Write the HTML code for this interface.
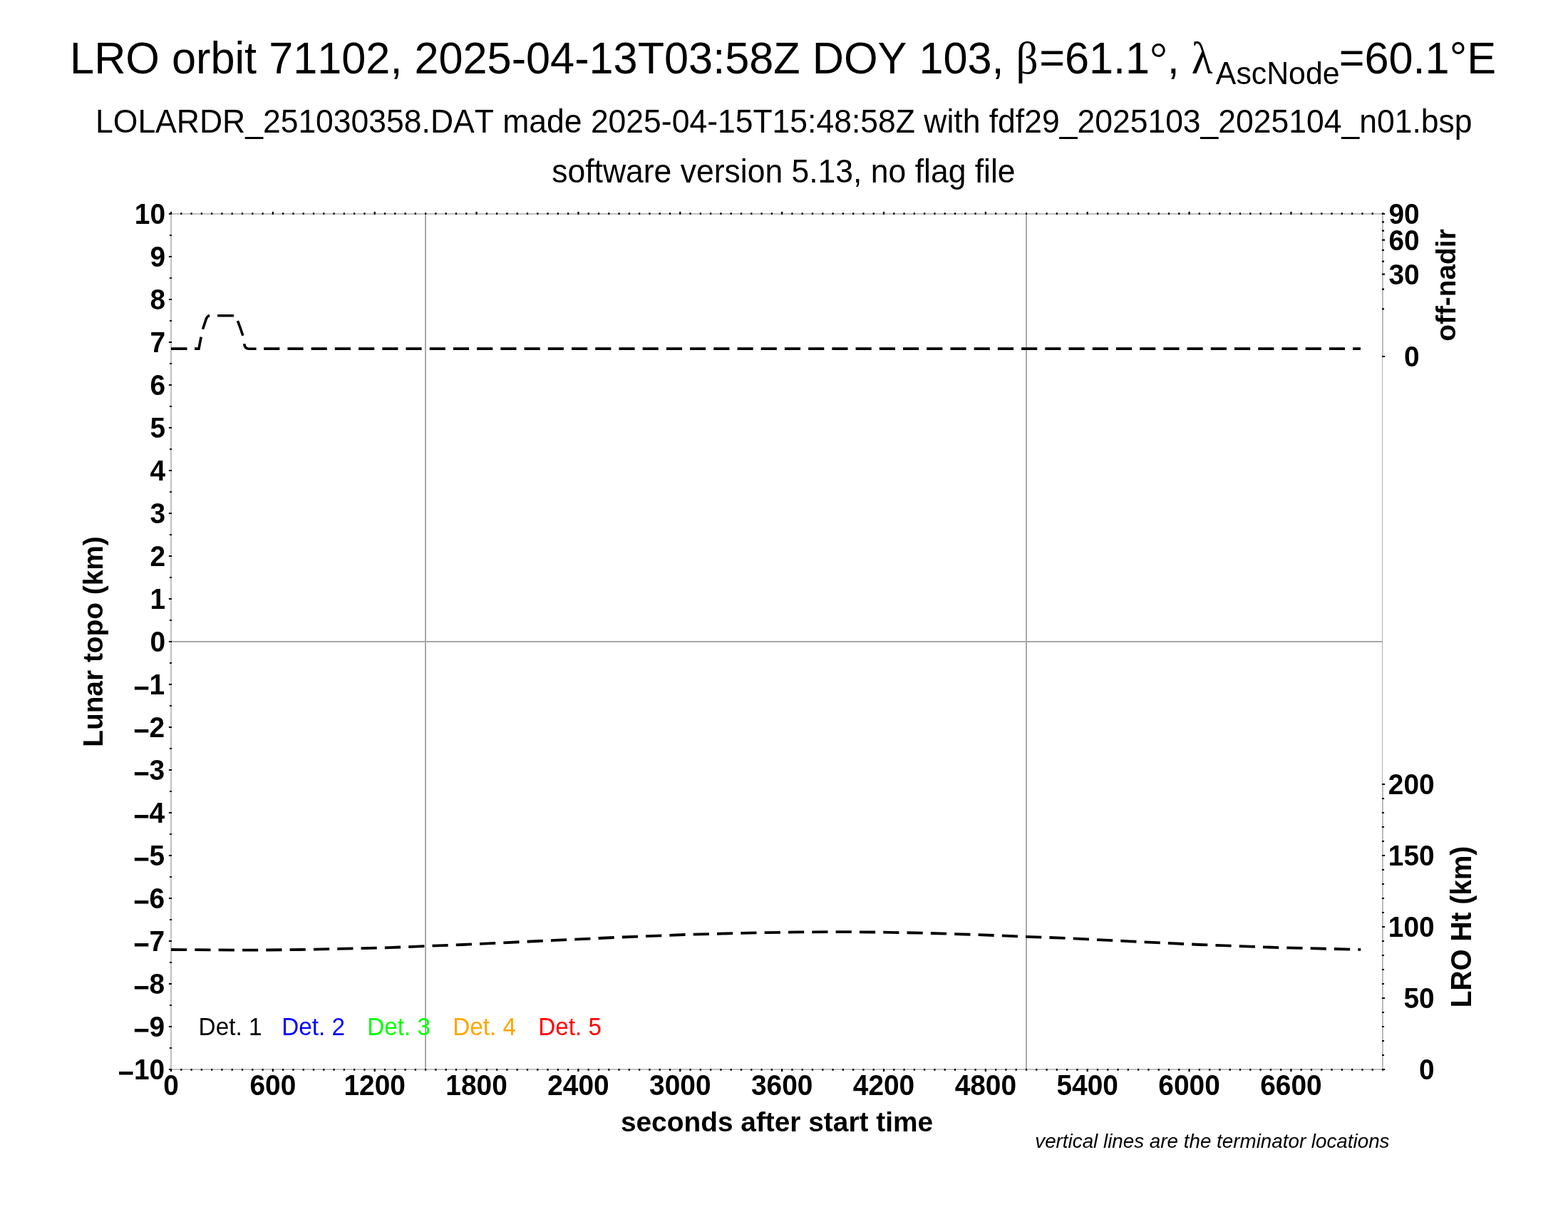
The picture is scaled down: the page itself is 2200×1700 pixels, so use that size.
<!DOCTYPE html>
<html lang="en"><head><meta charset="utf-8"><title>LRO orbit 71102</title>
<style>html,body{margin:0;padding:0;background:#fff}body{width:2200px;height:1700px;overflow:hidden}svg{display:block}text{font-family:'Liberation Sans', Arial, Helvetica, sans-serif;fill:#000;font-kerning:none}.b{font-weight:bold;font-size:38.85px}.tk{stroke:#000;stroke-width:2.2;fill:none}.fr{stroke:#c1c1c1;stroke-width:2;fill:none;stroke-linejoin:miter}.d{stroke:#000;stroke-width:3.8;fill:none}.sy{font-family:'Liberation Serif', 'DejaVu Serif', serif}</style>
</head><body>
<svg width="2200" height="1700" viewBox="0 0 2200 1700">
<rect width="2200" height="1700" fill="#fff"/>
<text transform="translate(98.10 103.10) scale(1 1.03)" font-size="61.25px">LRO orbit 71102, 2025-04-13T03:58Z DOY 103, <tspan class="sy">β</tspan><tspan dx="1.5">=61.1</tspan><tspan class="sy">°</tspan>, <tspan class="sy">λ</tspan><tspan font-size="42.8px" dy="14.56" dx="4.5">AscNode</tspan><tspan dy="-14.56" dx="-0.8">=60.1°E</tspan></text>
<text transform="translate(1099.80 186.00) scale(1 1.03)" font-size="44.5px" text-anchor="middle">LOLARDR_251030358.DAT made 2025-04-15T15:48:58Z with fdf29_2025103_2025104_n01.bsp</text>
<text transform="translate(1099.40 256.00) scale(1 1.02)" font-size="44.5px" text-anchor="middle">software version 5.13, no flag file</text>
<path d="M597 301V1499M1440 301V1499M241 900H1939" stroke="#a8a8a8" stroke-width="2" fill="none"/>
<path class="fr" d="M240 1501V300H1940M239 1500H1940M1940 299V500M1940 1100V1501"/>
<path d="M1939.5 500V1100" stroke="#b0b0b0" stroke-width="1" fill="none"/>
<path d="M1939.5 301V500M1939.5 1100V1499" stroke="#b4b4b4" stroke-width="1" fill="none"/>
<path class="tk" d="M240.00 1499.0v3.9M240.00 301.0v-3.9M254.29 1499.0v2.8M254.29 301.0v-2.8M268.57 1499.0v2.8M268.57 301.0v-2.8M282.86 1499.0v2.8M282.86 301.0v-2.8M297.14 1499.0v2.8M297.14 301.0v-2.8M311.43 1499.0v2.8M311.43 301.0v-2.8M325.71 1499.0v2.8M325.71 301.0v-2.8M340.00 1499.0v2.8M340.00 301.0v-2.8M354.29 1499.0v2.8M354.29 301.0v-2.8M368.57 1499.0v2.8M368.57 301.0v-2.8M382.86 1499.0v3.9M382.86 301.0v-3.9M397.14 1499.0v2.8M397.14 301.0v-2.8M411.43 1499.0v2.8M411.43 301.0v-2.8M425.71 1499.0v2.8M425.71 301.0v-2.8M440.00 1499.0v2.8M440.00 301.0v-2.8M454.29 1499.0v2.8M454.29 301.0v-2.8M468.57 1499.0v2.8M468.57 301.0v-2.8M482.86 1499.0v2.8M482.86 301.0v-2.8M497.14 1499.0v2.8M497.14 301.0v-2.8M511.43 1499.0v2.8M511.43 301.0v-2.8M525.71 1499.0v3.9M525.71 301.0v-3.9M540.00 1499.0v2.8M540.00 301.0v-2.8M554.29 1499.0v2.8M554.29 301.0v-2.8M568.57 1499.0v2.8M568.57 301.0v-2.8M582.86 1499.0v2.8M582.86 301.0v-2.8M597.14 1499.0v2.8M597.14 301.0v-2.8M611.43 1499.0v2.8M611.43 301.0v-2.8M625.71 1499.0v2.8M625.71 301.0v-2.8M640.00 1499.0v2.8M640.00 301.0v-2.8M654.29 1499.0v2.8M654.29 301.0v-2.8M668.57 1499.0v3.9M668.57 301.0v-3.9M682.86 1499.0v2.8M682.86 301.0v-2.8M697.14 1499.0v2.8M697.14 301.0v-2.8M711.43 1499.0v2.8M711.43 301.0v-2.8M725.71 1499.0v2.8M725.71 301.0v-2.8M740.00 1499.0v2.8M740.00 301.0v-2.8M754.29 1499.0v2.8M754.29 301.0v-2.8M768.57 1499.0v2.8M768.57 301.0v-2.8M782.86 1499.0v2.8M782.86 301.0v-2.8M797.14 1499.0v2.8M797.14 301.0v-2.8M811.43 1499.0v3.9M811.43 301.0v-3.9M825.71 1499.0v2.8M825.71 301.0v-2.8M840.00 1499.0v2.8M840.00 301.0v-2.8M854.29 1499.0v2.8M854.29 301.0v-2.8M868.57 1499.0v2.8M868.57 301.0v-2.8M882.86 1499.0v2.8M882.86 301.0v-2.8M897.14 1499.0v2.8M897.14 301.0v-2.8M911.43 1499.0v2.8M911.43 301.0v-2.8M925.71 1499.0v2.8M925.71 301.0v-2.8M940.00 1499.0v2.8M940.00 301.0v-2.8M954.29 1499.0v3.9M954.29 301.0v-3.9M968.57 1499.0v2.8M968.57 301.0v-2.8M982.86 1499.0v2.8M982.86 301.0v-2.8M997.14 1499.0v2.8M997.14 301.0v-2.8M1011.43 1499.0v2.8M1011.43 301.0v-2.8M1025.71 1499.0v2.8M1025.71 301.0v-2.8M1040.00 1499.0v2.8M1040.00 301.0v-2.8M1054.29 1499.0v2.8M1054.29 301.0v-2.8M1068.57 1499.0v2.8M1068.57 301.0v-2.8M1082.86 1499.0v2.8M1082.86 301.0v-2.8M1097.14 1499.0v3.9M1097.14 301.0v-3.9M1111.43 1499.0v2.8M1111.43 301.0v-2.8M1125.71 1499.0v2.8M1125.71 301.0v-2.8M1140.00 1499.0v2.8M1140.00 301.0v-2.8M1154.29 1499.0v2.8M1154.29 301.0v-2.8M1168.57 1499.0v2.8M1168.57 301.0v-2.8M1182.86 1499.0v2.8M1182.86 301.0v-2.8M1197.14 1499.0v2.8M1197.14 301.0v-2.8M1211.43 1499.0v2.8M1211.43 301.0v-2.8M1225.71 1499.0v2.8M1225.71 301.0v-2.8M1240.00 1499.0v3.9M1240.00 301.0v-3.9M1254.29 1499.0v2.8M1254.29 301.0v-2.8M1268.57 1499.0v2.8M1268.57 301.0v-2.8M1282.86 1499.0v2.8M1282.86 301.0v-2.8M1297.14 1499.0v2.8M1297.14 301.0v-2.8M1311.43 1499.0v2.8M1311.43 301.0v-2.8M1325.71 1499.0v2.8M1325.71 301.0v-2.8M1340.00 1499.0v2.8M1340.00 301.0v-2.8M1354.29 1499.0v2.8M1354.29 301.0v-2.8M1368.57 1499.0v2.8M1368.57 301.0v-2.8M1382.86 1499.0v3.9M1382.86 301.0v-3.9M1397.14 1499.0v2.8M1397.14 301.0v-2.8M1411.43 1499.0v2.8M1411.43 301.0v-2.8M1425.71 1499.0v2.8M1425.71 301.0v-2.8M1440.00 1499.0v2.8M1440.00 301.0v-2.8M1454.29 1499.0v2.8M1454.29 301.0v-2.8M1468.57 1499.0v2.8M1468.57 301.0v-2.8M1482.86 1499.0v2.8M1482.86 301.0v-2.8M1497.14 1499.0v2.8M1497.14 301.0v-2.8M1511.43 1499.0v2.8M1511.43 301.0v-2.8M1525.71 1499.0v3.9M1525.71 301.0v-3.9M1540.00 1499.0v2.8M1540.00 301.0v-2.8M1554.29 1499.0v2.8M1554.29 301.0v-2.8M1568.57 1499.0v2.8M1568.57 301.0v-2.8M1582.86 1499.0v2.8M1582.86 301.0v-2.8M1597.14 1499.0v2.8M1597.14 301.0v-2.8M1611.43 1499.0v2.8M1611.43 301.0v-2.8M1625.71 1499.0v2.8M1625.71 301.0v-2.8M1640.00 1499.0v2.8M1640.00 301.0v-2.8M1654.29 1499.0v2.8M1654.29 301.0v-2.8M1668.57 1499.0v3.9M1668.57 301.0v-3.9M1682.86 1499.0v2.8M1682.86 301.0v-2.8M1697.14 1499.0v2.8M1697.14 301.0v-2.8M1711.43 1499.0v2.8M1711.43 301.0v-2.8M1725.71 1499.0v2.8M1725.71 301.0v-2.8M1740.00 1499.0v2.8M1740.00 301.0v-2.8M1754.29 1499.0v2.8M1754.29 301.0v-2.8M1768.57 1499.0v2.8M1768.57 301.0v-2.8M1782.86 1499.0v2.8M1782.86 301.0v-2.8M1797.14 1499.0v2.8M1797.14 301.0v-2.8M1811.43 1499.0v3.9M1811.43 301.0v-3.9M1825.71 1499.0v2.8M1825.71 301.0v-2.8M1840.00 1499.0v2.8M1840.00 301.0v-2.8M1854.29 1499.0v2.8M1854.29 301.0v-2.8M1868.57 1499.0v2.8M1868.57 301.0v-2.8M1882.86 1499.0v2.8M1882.86 301.0v-2.8M1897.14 1499.0v2.8M1897.14 301.0v-2.8M1911.43 1499.0v2.8M1911.43 301.0v-2.8M1925.71 1499.0v2.8M1925.71 301.0v-2.8M1940.00 1499.0v2.8M1940.00 301.0v-2.8M241.0 300.0h-4.1M241.0 330.0h-3.0M241.0 360.0h-4.1M241.0 390.0h-3.0M241.0 420.0h-4.1M241.0 450.0h-3.0M241.0 480.0h-4.1M241.0 510.0h-3.0M241.0 540.0h-4.1M241.0 570.0h-3.0M241.0 600.0h-4.1M241.0 630.0h-3.0M241.0 660.0h-4.1M241.0 690.0h-3.0M241.0 720.0h-4.1M241.0 750.0h-3.0M241.0 780.0h-4.1M241.0 810.0h-3.0M241.0 840.0h-4.1M241.0 870.0h-3.0M241.0 900.0h-4.1M241.0 930.0h-3.0M241.0 960.0h-4.1M241.0 990.0h-3.0M241.0 1020.0h-4.1M241.0 1050.0h-3.0M241.0 1080.0h-4.1M241.0 1110.0h-3.0M241.0 1140.0h-4.1M241.0 1170.0h-3.0M241.0 1200.0h-4.1M241.0 1230.0h-3.0M241.0 1260.0h-4.1M241.0 1290.0h-3.0M241.0 1320.0h-4.1M241.0 1350.0h-3.0M241.0 1380.0h-4.1M241.0 1410.0h-3.0M241.0 1440.0h-4.1M241.0 1470.0h-3.0M241.0 1500.0h-4.1M1939.0 1500.0h4.1M1939.0 1480.0h3.0M1939.0 1460.0h3.0M1939.0 1440.0h3.0M1939.0 1420.0h3.0M1939.0 1400.0h4.1M1939.0 1380.0h3.0M1939.0 1360.0h3.0M1939.0 1340.0h3.0M1939.0 1320.0h3.0M1939.0 1300.0h4.1M1939.0 1280.0h3.0M1939.0 1260.0h3.0M1939.0 1240.0h3.0M1939.0 1220.0h3.0M1939.0 1200.0h4.1M1939.0 1180.0h3.0M1939.0 1160.0h3.0M1939.0 1140.0h3.0M1939.0 1120.0h3.0M1939.0 1100.0h4.1M1939.0 500.00h4.1M1939.0 433.33h3.0M1939.0 405.72h3.0M1939.0 384.53h4.1M1939.0 366.67h3.0M1939.0 350.93h3.0M1939.0 336.70h4.1M1939.0 323.62h3.0M1939.0 311.44h3.0M1939.0 300.00h4.1"/>
<text transform="translate(232.00 1514.10) scale(1 1.06)" text-anchor="end" class="b"><tspan dy="4.3" dx="-0.8">−</tspan><tspan dy="-4.3">10</tspan></text>
<text transform="translate(232.00 1454.10) scale(1 1.06)" text-anchor="end" class="b"><tspan dy="4.3" dx="-0.8">−</tspan><tspan dy="-4.3">9</tspan></text>
<text transform="translate(232.00 1394.10) scale(1 1.06)" text-anchor="end" class="b"><tspan dy="4.3" dx="-0.8">−</tspan><tspan dy="-4.3">8</tspan></text>
<text transform="translate(232.00 1334.10) scale(1 1.06)" text-anchor="end" class="b"><tspan dy="4.3" dx="-0.8">−</tspan><tspan dy="-4.3">7</tspan></text>
<text transform="translate(232.00 1274.10) scale(1 1.06)" text-anchor="end" class="b"><tspan dy="4.3" dx="-0.8">−</tspan><tspan dy="-4.3">6</tspan></text>
<text transform="translate(232.00 1214.10) scale(1 1.06)" text-anchor="end" class="b"><tspan dy="4.3" dx="-0.8">−</tspan><tspan dy="-4.3">5</tspan></text>
<text transform="translate(232.00 1154.10) scale(1 1.06)" text-anchor="end" class="b"><tspan dy="4.3" dx="-0.8">−</tspan><tspan dy="-4.3">4</tspan></text>
<text transform="translate(232.00 1094.10) scale(1 1.06)" text-anchor="end" class="b"><tspan dy="4.3" dx="-0.8">−</tspan><tspan dy="-4.3">3</tspan></text>
<text transform="translate(232.00 1034.10) scale(1 1.06)" text-anchor="end" class="b"><tspan dy="4.3" dx="-0.8">−</tspan><tspan dy="-4.3">2</tspan></text>
<text transform="translate(232.00 974.10) scale(1 1.06)" text-anchor="end" class="b"><tspan dy="4.3" dx="-0.8">−</tspan><tspan dy="-4.3">1</tspan></text>
<text transform="translate(232.00 914.10) scale(1 1.06)" text-anchor="end" class="b">0</text>
<text transform="translate(232.00 854.10) scale(1 1.06)" text-anchor="end" class="b">1</text>
<text transform="translate(232.00 794.10) scale(1 1.06)" text-anchor="end" class="b">2</text>
<text transform="translate(232.00 734.10) scale(1 1.06)" text-anchor="end" class="b">3</text>
<text transform="translate(232.00 674.10) scale(1 1.06)" text-anchor="end" class="b">4</text>
<text transform="translate(232.00 614.10) scale(1 1.06)" text-anchor="end" class="b">5</text>
<text transform="translate(232.00 554.10) scale(1 1.06)" text-anchor="end" class="b">6</text>
<text transform="translate(232.00 494.10) scale(1 1.06)" text-anchor="end" class="b">7</text>
<text transform="translate(232.00 434.10) scale(1 1.06)" text-anchor="end" class="b">8</text>
<text transform="translate(232.00 374.10) scale(1 1.06)" text-anchor="end" class="b">9</text>
<text transform="translate(232.00 314.10) scale(1 1.06)" text-anchor="end" class="b">10</text>
<text transform="translate(240.00 1536.00) scale(1 1.06)" text-anchor="middle" class="b">0</text>
<text transform="translate(382.86 1536.00) scale(1 1.06)" text-anchor="middle" class="b">600</text>
<text transform="translate(525.71 1536.00) scale(1 1.06)" text-anchor="middle" class="b">1200</text>
<text transform="translate(668.57 1536.00) scale(1 1.06)" text-anchor="middle" class="b">1800</text>
<text transform="translate(811.43 1536.00) scale(1 1.06)" text-anchor="middle" class="b">2400</text>
<text transform="translate(954.29 1536.00) scale(1 1.06)" text-anchor="middle" class="b">3000</text>
<text transform="translate(1097.14 1536.00) scale(1 1.06)" text-anchor="middle" class="b">3600</text>
<text transform="translate(1240.00 1536.00) scale(1 1.06)" text-anchor="middle" class="b">4200</text>
<text transform="translate(1382.86 1536.00) scale(1 1.06)" text-anchor="middle" class="b">4800</text>
<text transform="translate(1525.71 1536.00) scale(1 1.06)" text-anchor="middle" class="b">5400</text>
<text transform="translate(1668.57 1536.00) scale(1 1.06)" text-anchor="middle" class="b">6000</text>
<text transform="translate(1811.43 1536.00) scale(1 1.06)" text-anchor="middle" class="b">6600</text>
<text transform="translate(2012.60 1514.10) scale(1 1.06)" text-anchor="end" class="b">0</text>
<text transform="translate(2012.60 1414.10) scale(1 1.06)" text-anchor="end" class="b">50</text>
<text transform="translate(2012.60 1314.10) scale(1 1.06)" text-anchor="end" class="b">100</text>
<text transform="translate(2012.60 1214.10) scale(1 1.06)" text-anchor="end" class="b">150</text>
<text transform="translate(2012.60 1114.10) scale(1 1.06)" text-anchor="end" class="b">200</text>
<text transform="translate(1991.60 514.10) scale(1 1.06)" text-anchor="end" class="b">0</text>
<text transform="translate(1991.60 398.63) scale(1 1.06)" text-anchor="end" class="b">30</text>
<text transform="translate(1991.60 350.80) scale(1 1.06)" text-anchor="end" class="b">60</text>
<text transform="translate(1991.60 314.10) scale(1 1.06)" text-anchor="end" class="b">90</text>
<text transform="translate(1090.00 1587.20) scale(1 1.01)" text-anchor="middle" class="b">seconds after start time</text>
<text transform="translate(144.10 900.00) rotate(-90) scale(1 1.02)" text-anchor="middle" class="b">Lunar topo (km)</text>
<text transform="translate(2064.00 1300.00) rotate(-90) scale(1 1.04)" text-anchor="middle" class="b">LRO Ht (km)</text>
<text transform="translate(2042.20 400.00) rotate(-90) scale(1 1.01)" text-anchor="middle" class="b">off-nadir</text>
<text transform="translate(278.60 1451.90) scale(1 1.03)" font-size="33.3px" style="fill:#000">Det. 1</text>
<text transform="translate(395.30 1451.90) scale(1 1.03)" font-size="33.3px" style="fill:#00f">Det. 2</text>
<text transform="translate(515.20 1451.90) scale(1 1.03)" font-size="33.3px" style="fill:#0f0">Det. 3</text>
<text transform="translate(635.20 1451.90) scale(1 1.03)" font-size="33.3px" style="fill:#ffa500">Det. 4</text>
<text transform="translate(755.20 1451.90) scale(1 1.03)" font-size="33.3px" style="fill:#f00">Det. 5</text>
<text transform="translate(1949.50 1610.00) scale(1 1.01)" font-size="27.8px" text-anchor="end" font-style="italic">vertical lines are the terminator locations</text>
<path class="d" style="stroke-width:3.6" d="M240 489.1H262.5M273 489.1H279L280.5 481L282.2 472.7M284.5 461.7L289.4 447Q290.9 443.4 294.1 442.4M305.1 442.7H328M333.5 450.2L337 459.5L340.8 470.8M342.6 482.3Q343.5 489.3 349 489.3H359.6"/>
<path class="d" stroke-dasharray="22.15 11.065" d="M370.2 489.2H1909"/>
<path class="d" stroke-dasharray="22.2 11.125" d="M240.0 1332.0L300.0 1332.4L355.0 1332.7L420.0 1332.0L473.0 1330.8L540.0 1329.4L597.0 1327.1L650.0 1325.0L755.0 1320.0L861.0 1315.0L960.0 1311.0L1061.0 1308.3L1120.0 1307.4L1185.0 1307.1L1240.0 1307.6L1300.0 1308.8L1370.0 1311.0L1439.0 1313.8L1489.0 1315.6L1585.0 1320.3L1682.0 1325.0L1800.0 1329.3L1909.2 1331.9"/>
</svg></body></html>
